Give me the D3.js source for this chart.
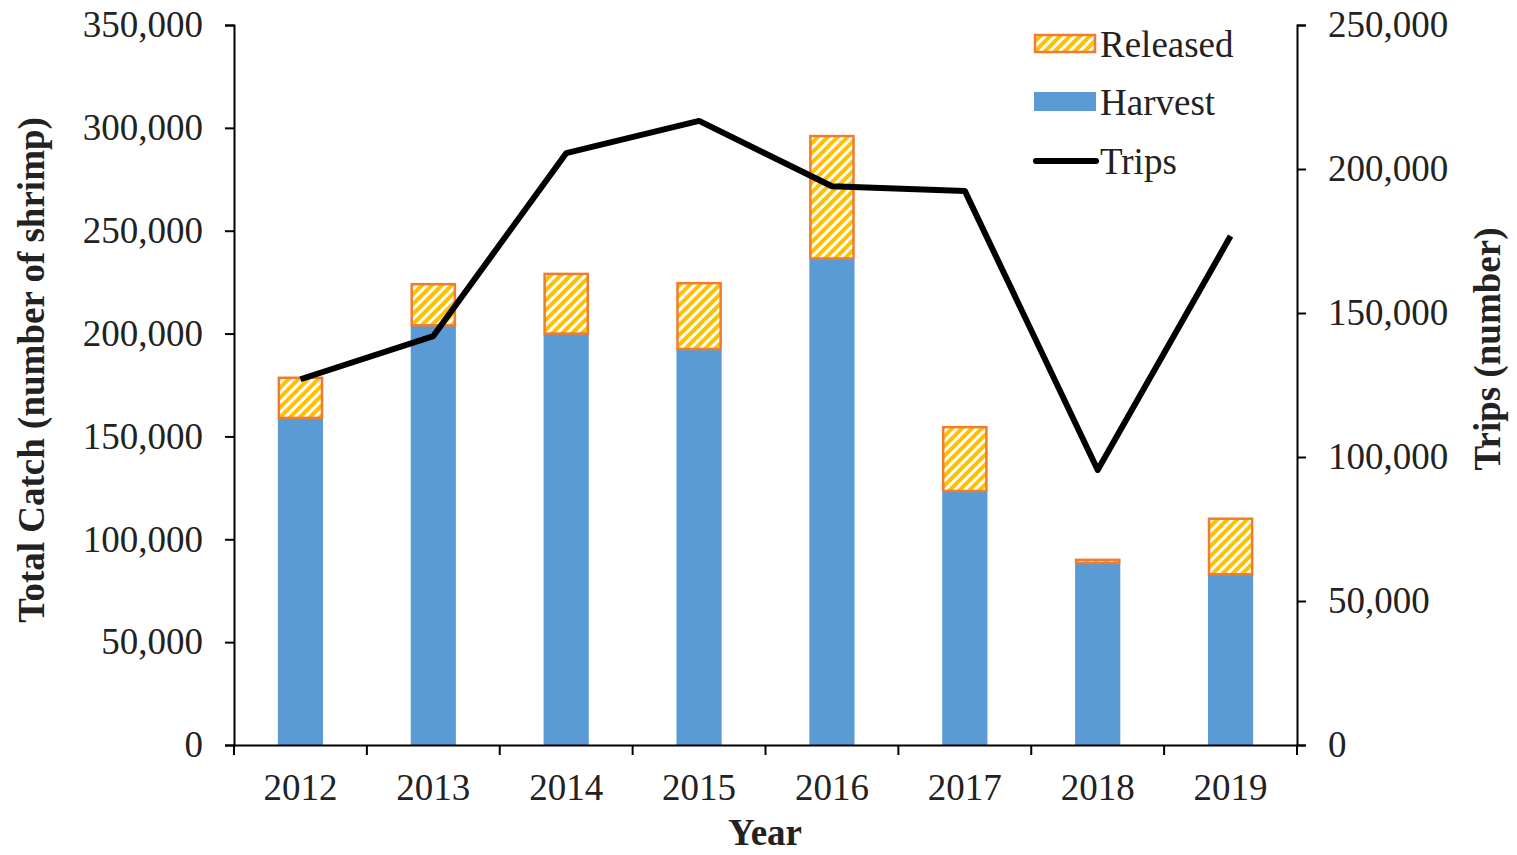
<!DOCTYPE html>
<html>
<head>
<meta charset="utf-8">
<script src="https://cdn.jsdelivr.net/npm/d3@7"></script>
<style>
  body { margin: 0; background: #fff; }
  svg text { font-family: "Liberation Serif", "Times New Roman", serif; fill: #222; }
</style>
</head>
<body>
<div id="chart"></div>
<script>
// Data
const years = ['2012', '2013', '2014', '2015', '2016', '2017', '2018', '2019'];
const harvest = [159000, 204000, 200000, 192500, 236500, 123500, 88500, 83000];
const released = [20000, 20500, 29500, 32500, 60000, 31500, 2000, 27500];
const trips = [127000, 142000, 205500, 216700, 194000, 192400, 95500, 176700];
const leftTicks = [0, 50000, 100000, 150000, 200000, 250000, 300000, 350000];
const rightTicks = [0, 50000, 100000, 150000, 200000, 250000];

const W = 1517, H = 855;
const margin = { top: 25, right: 220, bottom: 110, left: 234 };
const width = W - margin.left - margin.right;
const height = H - margin.top - margin.bottom;

const svg = d3.select('#chart').append('svg')
  .attr('width', W)
  .attr('height', H);

// hatch pattern for released
const defs = svg.append('defs');
const pat = defs.append('pattern')
  .attr('id', 'hatch')
  .attr('patternUnits', 'userSpaceOnUse')
  .attr('width', 7)
  .attr('height', 7)
  .attr('patternTransform', 'rotate(45)');
pat.append('rect').attr('width', 7).attr('height', 7).attr('fill', '#fff');
pat.append('rect').attr('width', 4).attr('height', 7).attr('fill', '#FFC000');

const g = svg.append('g')
  .attr('transform', `translate(${margin.left},${margin.top})`);

const x = d3.scaleBand()
  .domain(years)
  .range([0, width])
  .paddingInner(0.66)
  .paddingOuter(0.33);

const band = d3.scaleBand().domain(years).range([0, width]);

const y = d3.scaleLinear().domain([0, 350000]).range([height, 0]);
const y2 = d3.scaleLinear().domain([0, 250000]).range([height, 0]);

const fmt = d3.format(',');

// Harvest bars
g.selectAll('.harvest')
  .data(years)
  .enter().append('rect')
  .attr('class', 'harvest')
  .attr('x', d => x(d))
  .attr('width', x.bandwidth())
  .attr('y', (d, i) => y(harvest[i]))
  .attr('height', (d, i) => height - y(harvest[i]))
  .attr('fill', '#5B9BD5');

// Released bars
g.selectAll('.released')
  .data(years)
  .enter().append('rect')
  .attr('class', 'released')
  .attr('x', d => x(d) + 1)
  .attr('width', x.bandwidth() - 2)
  .attr('y', (d, i) => y(harvest[i] + released[i]) + 1)
  .attr('height', (d, i) => Math.max(0, y(harvest[i]) - y(harvest[i] + released[i]) - 1))
  .attr('fill', 'url(#hatch)')
  .attr('stroke', '#ED7D31')
  .attr('stroke-width', 2.5);

// Trips line
const line = d3.line()
  .x((d, i) => band(years[i]) + band.bandwidth() / 2)
  .y(d => y2(d));

g.append('path')
  .datum(trips)
  .attr('d', line)
  .attr('fill', 'none')
  .attr('stroke', '#000')
  .attr('stroke-width', 6)
  .attr('stroke-linejoin', 'round');

// Axes
const axisFont = '37px';

const leftAxis = g.append('g')
  .call(d3.axisLeft(y).tickValues(leftTicks).tickFormat(fmt).tickSize(9).tickPadding(22));
leftAxis.select('.domain').attr('stroke-width', 2);
leftAxis.selectAll('line').attr('stroke-width', 2);
leftAxis.selectAll('text').style('font-size', axisFont);

const rightAxis = g.append('g')
  .attr('transform', `translate(${width},0)`)
  .call(d3.axisRight(y2).tickValues(rightTicks).tickFormat(fmt).tickSize(9).tickPadding(22));
rightAxis.select('.domain').attr('stroke-width', 2);
rightAxis.selectAll('line').attr('stroke-width', 2);
rightAxis.selectAll('text').style('font-size', axisFont);

const bottomAxis = g.append('g')
  .attr('transform', `translate(0,${height})`)
  .call(d3.axisBottom(band).tickSize(0).tickPadding(29));
bottomAxis.select('.domain').attr('stroke-width', 2);
bottomAxis.selectAll('text').style('font-size', axisFont);

// category separator ticks
g.append('g')
  .selectAll('line')
  .data(years.concat(['end']))
  .enter().append('line')
  .attr('x1', (d, i) => i * band.step())
  .attr('x2', (d, i) => i * band.step())
  .attr('y1', height)
  .attr('y2', height + 10)
  .attr('stroke', '#000')
  .attr('stroke-width', 2);

// Axis titles
svg.append('text')
  .attr('transform', `translate(44,${margin.top + height / 2 - 15}) rotate(-90)`)
  .attr('text-anchor', 'middle')
  .style('font-size', '37px')
  .style('font-weight', 'bold')
  .text('Total Catch (number of shrimp)');

svg.append('text')
  .attr('transform', `translate(1500,349) rotate(-90)`)
  .attr('text-anchor', 'middle')
  .style('font-size', '37px')
  .style('font-weight', 'bold')
  .text('Trips (number)');

svg.append('text')
  .attr('x', 765)
  .attr('y', 845)
  .attr('text-anchor', 'middle')
  .style('font-size', '37px')
  .style('font-weight', 'bold')
  .text('Year');

// Legend
const legend = svg.append('g').attr('transform', 'translate(1034,0)');
legend.append('rect')
  .attr('x', 1).attr('y', 35).attr('width', 60).attr('height', 17)
  .attr('fill', 'url(#hatch)').attr('stroke', '#ED7D31').attr('stroke-width', 2.5);
legend.append('text').attr('x', 66).attr('y', 57).style('font-size', '37px').text('Released');

legend.append('rect')
  .attr('x', 0).attr('y', 92).attr('width', 62).attr('height', 19)
  .attr('fill', '#5B9BD5');
legend.append('text').attr('x', 66).attr('y', 115).style('font-size', '37px').text('Harvest');

legend.append('line')
  .attr('x1', 2).attr('x2', 62).attr('y1', 161).attr('y2', 161)
  .attr('stroke', '#000').attr('stroke-width', 6).attr('stroke-linecap', 'round');
legend.append('text').attr('x', 66).attr('y', 174).style('font-size', '37px').text('Trips');
</script>
</body>
</html>
